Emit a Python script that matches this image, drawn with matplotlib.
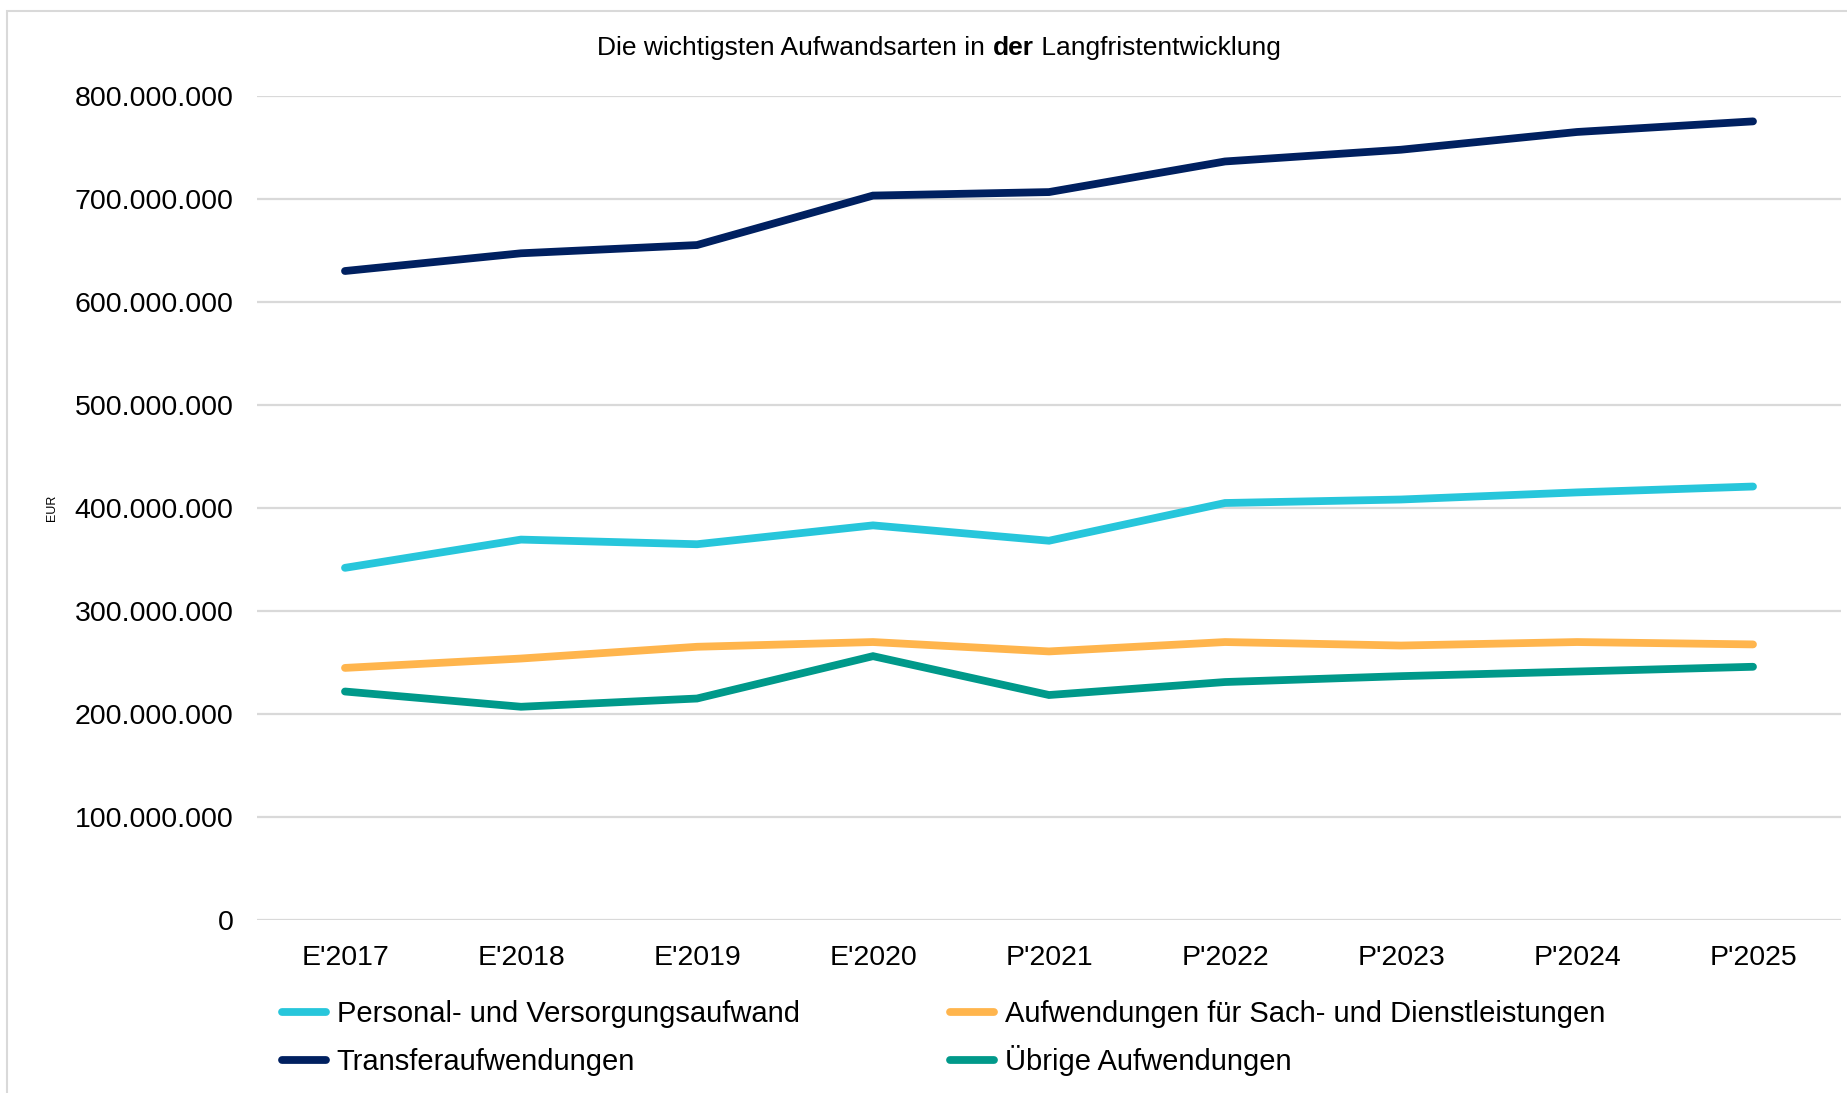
import matplotlib
matplotlib.use("Agg")
import matplotlib.pyplot as plt
from matplotlib.patches import Rectangle
from matplotlib.ticker import FuncFormatter

plt.rcParams['font.family'] = ['Liberation Sans', 'DejaVu Sans']

categories = ["E'2017", "E'2018", "E'2019", "E'2020", "P'2021", "P'2022", "P'2023", "P'2024", "P'2025"]
personal = [341.7e6, 369.1e6, 364.6e6, 382.9e6, 368.0e6, 404.6e6, 408.0e6, 414.9e6, 420.6e6]
sach = [244.6e6, 253.7e6, 265.1e6, 269.7e6, 260.6e6, 269.7e6, 266.3e6, 269.7e6, 267.4e6]
transfer = [629.7e6, 646.9e6, 654.9e6, 702.9e6, 706.3e6, 736.0e6, 747.4e6, 764.6e6, 774.9e6]
uebrige = [221.7e6, 206.9e6, 214.9e6, 256.0e6, 218.3e6, 230.9e6, 236.6e6, 241.1e6, 245.7e6]

series_names = ["Personal- und Versorgungsaufwand", "Aufwendungen für Sach- und Dienstleistungen",
                "Transferaufwendungen", "Übrige Aufwendungen"]
series_vals = [personal, sach, transfer, uebrige]
colors = ["#27C6DB", "#FFB54D", "#002060", "#00998A"]

W, H = 1847, 1093
fig = plt.figure(figsize=(W/100, H/100), dpi=100)
ax = fig.add_axes([257/W, 1-920/H, (1841-257)/W, (920-95.5)/H])

x = list(range(len(categories)))
handles = []
for name, vals, c in zip(series_names, series_vals, colors):
    h, = ax.plot(x, vals, color=c, lw=5.6, solid_capstyle='round', solid_joinstyle='miter', label=name, zorder=3)
    handles.append(h)

ax.set_xlim(-0.5, len(categories) - 0.5)
ax.set_ylim(0, 800e6)
ax.set_yticks([i*100e6 for i in range(9)])
ax.yaxis.set_major_formatter(FuncFormatter(lambda v, p: f"{int(round(v)):,}".replace(",", ".")))
ax.set_xticks(x)
ax.set_xticklabels(categories)
ax.grid(axis='y', color='#D9D9D9', lw=1.6, zorder=0)
ax.set_axisbelow(True)
for s in ax.spines.values():
    s.set_visible(False)
ax.tick_params(axis='both', length=0, labelsize=20.5, colors='black')
ax.tick_params(axis='y', pad=17)
ax.tick_params(axis='x', pad=18)

fig.text(52/W, 1-508/H, "EUR", rotation=90, fontsize=9, ha='center', va='center')

# Legend: 2x2 grid, row-major, each entry placed in its own cell
cell_x = [282, 950]          # left edge of each legend column (px)
cell_y = [1028, 1076]        # bottom of each legend row (px)
for i, (h, name) in enumerate(zip(handles, series_names)):
    r, c = divmod(i, 2)
    leg = fig.legend([h], [name], loc='lower left',
                     bbox_to_anchor=(cell_x[c]/W, 1-cell_y[r]/H),
                     frameon=False, fontsize=21, handlelength=1.5, handletextpad=0.38,
                     borderpad=0, borderaxespad=0)
    for lh in leg.get_lines():
        lh.set_linewidth(5.6)
        lh.set_solid_capstyle('round')

# Title with bold "der"
fig.canvas.draw()
renderer = fig.canvas.get_renderer()
parts = [("Die wichtigsten Aufwandsarten in ", 'normal'), ("der", 'bold'), (" Langfristentwicklung", 'normal')]
ty = 1 - 48/H
texts = []
for s, wgt in parts:
    t = fig.text(0, ty, s, fontsize=19, fontweight=wgt, ha='left', va='center')
    texts.append(t)
widths = [t.get_window_extent(renderer).width for t in texts]
total = sum(widths)
x0 = 939 - total/2
for t, w in zip(texts, widths):
    t.set_x(x0 / W)
    x0 += w

# Figure border
fig.patches.append(Rectangle((7/W, -0.1), 1.2, 1.1 - 11/H, transform=fig.transFigure,
                             fill=False, edgecolor='#D9D9D9', lw=1.5))

fig.savefig("out.png", dpi=100)
